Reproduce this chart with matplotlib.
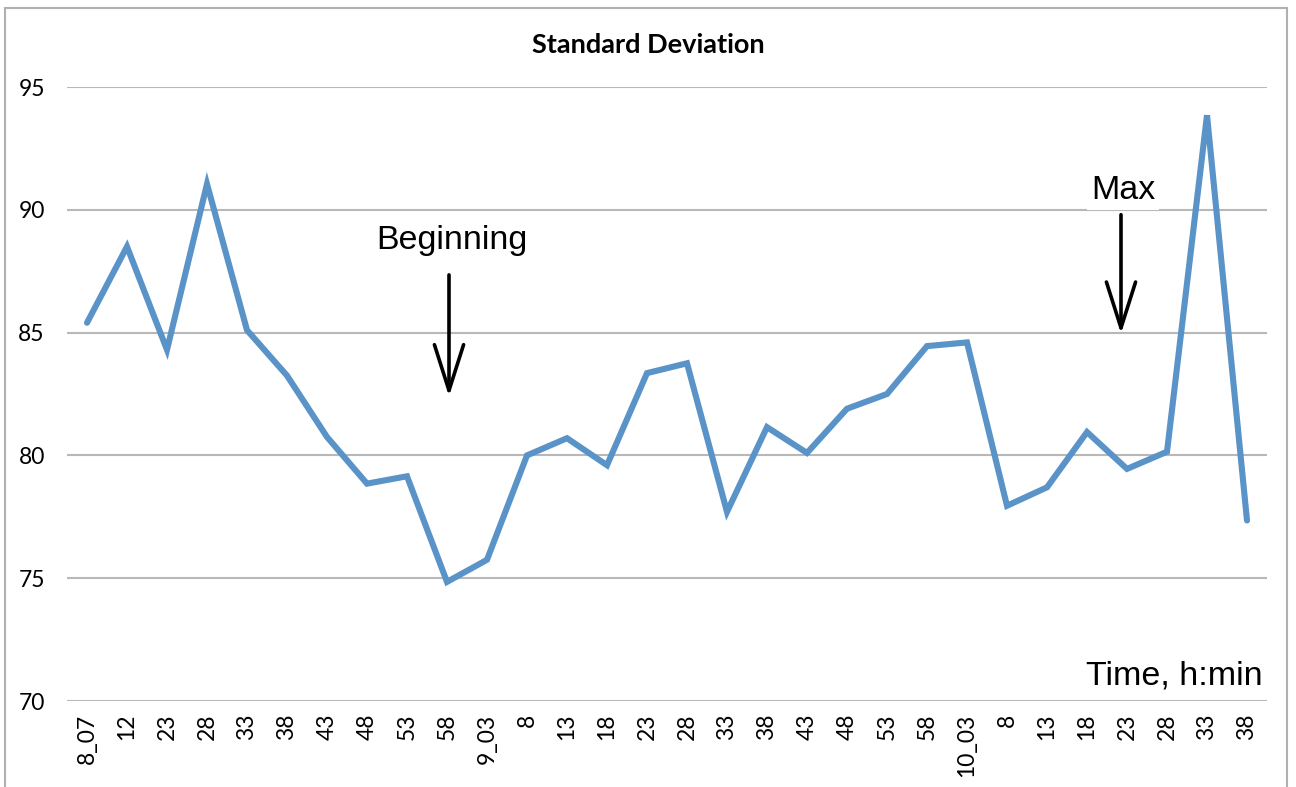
import matplotlib
matplotlib.use("Agg")
import matplotlib.pyplot as plt
from matplotlib.patches import Rectangle

# time labels along the x axis (h_min)
labels = ["8_07", "12", "23", "28", "33", "38", "43", "48", "53", "58",
          "9_03", "8", "13", "18", "23", "28", "33", "38", "43", "48", "53", "58",
          "10_03", "8", "13", "18", "23", "28", "33", "38"]
# standard deviation values
std_dev = [85.4, 88.5, 84.3, 91.05, 85.1, 83.25, 80.75, 78.85, 79.15, 74.85,
           75.75, 80.0, 80.7, 79.6, 83.35, 83.75, 77.7, 81.15, 80.1, 81.9,
           82.5, 84.45, 84.6, 77.95, 78.7, 80.95, 79.45, 80.15, 93.85, 77.35]
yticks = [70, 75, 80, 85, 90, 95]

line_color = "#5A93C8"
grid_color = "#B8B8B8"

fig = plt.figure(figsize=(12.96, 7.87), dpi=100)
ax = fig.add_axes([67 / 1296, 1 - 701 / 787, 1200 / 1296, 614 / 787])

x = list(range(len(labels)))
ax.plot(x, std_dev, color=line_color, lw=4.4, solid_joinstyle="miter",
        solid_capstyle="round", zorder=3)

ax.set_xlim(-0.5, len(labels) - 0.5)
ax.set_ylim(70, 95)
ax.set_yticks(yticks)
ax.set_xticks(x)
ax.set_xticklabels(labels, rotation=90, fontsize=16.5, family="Lato")
for t in ax.get_yticklabels():
    t.set_family("Lato")
    t.set_fontsize(16.5)
ax.tick_params(axis="y", length=0, pad=16)
ax.tick_params(axis="x", length=0, pad=9)
ax.grid(axis="y", color=grid_color, lw=1.5)
ax.set_axisbelow(True)
for s in ax.spines.values():
    s.set_visible(False)

fig.text(0.5, 1 - 45 / 787, "Standard Deviation", ha="center", va="center",
         fontsize=19.5, fontweight="bold", family="Lato")

# annotations
arrow = dict(arrowstyle="->,head_length=1.1,head_width=0.35",
             mutation_scale=30, lw=2.6, color="black", shrinkA=0, shrinkB=0)
ax.annotate("", xy=(9.05, 82.4), xytext=(9.05, 87.35), arrowprops=arrow)
ax.text(9.12, 88.1, "Beginning", ha="center", va="bottom", fontsize=24.5,
        family="Liberation Sans")

ax.annotate("", xy=(25.85, 84.95), xytext=(25.85, 89.8), arrowprops=arrow)
ax.text(25.9, 90.15, "Max", ha="center", va="bottom", fontsize=24.5,
        family="Liberation Sans",
        bbox=dict(facecolor="white", edgecolor="none", pad=3))

ax.text(29.4, 70.4, "Time, h:min", ha="right", va="bottom", fontsize=24.5,
        family="Liberation Sans")

# outer chart frame
fig.patches.append(Rectangle((5 / 1296, -0.05), 1282 / 1296, 1.05 - 8 / 787,
                             transform=fig.transFigure, fill=False,
                             edgecolor="#B0B0B0", lw=1.5))

plt.savefig("out.png", dpi=100)
